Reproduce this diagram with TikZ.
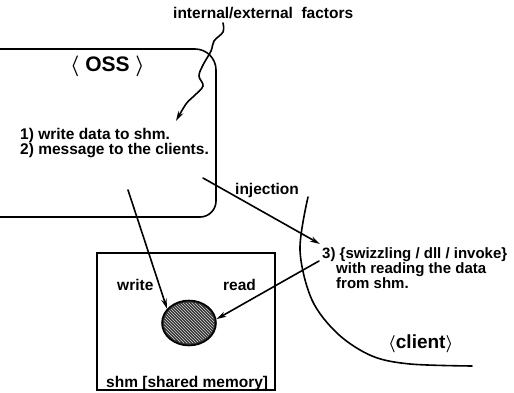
\documentclass[tikz,border=0pt]{standalone}
\usepackage{fontspec}
\setmainfont{Liberation Sans}
\usetikzlibrary{arrows.meta,patterns,shapes.geometric}
\tikzset{
  lbl/.style={inner sep=0pt, anchor=base west, font=\fontsize{15.5}{15}\selectfont\bfseries},
  ln/.style={line width=1.6pt, line cap=round},
  arr/.style={ln, -{Stealth[length=10pt,width=5.5pt]}},
}
\newcommand{\lang}{{\boldmath$\langle$}}
\newcommand{\rang}{{\boldmath$\rangle$}}
\begin{document}
\begin{tikzpicture}[x=1pt,y=-1pt]
\useasboundingbox (0,0) rectangle (514,393);
% OSS box (open on the left)
\draw[ln] (0,49) -- (195,49) arc[start angle=-90, end angle=0, radius=21] -- (216,201) arc[start angle=0, end angle=90, radius=16] -- (0,217);
\node[lbl, font=\fontsize{21}{21}\selectfont\bfseries] (oss) at (70,72) {\lang\ OSS\ \rang};
% factors
\node[lbl] (fac) at (173,19) {internal/external\ \ factors};
\draw[arr] plot[smooth, tension=0.6] coordinates {(223,23) (223,32) (214,41) (211,51) (203,65) (199,76) (203,86) (194,96) (186,104) (176,121)};
% OSS steps
\node[lbl, align=left, font=\fontsize{15.5}{14.5}\selectfont\bfseries] (steps) at (20,154) {1) write data to shm.\\2) message to the clients.};
% shm box
\node[draw, line width=1.2pt, minimum width=178pt, minimum height=137pt, inner sep=0pt] (shm) at (186,321.5) {};
\node[lbl] (shmtxt) at (106,387) {shm [shared memory]};
\node[ellipse, draw, line width=1.6pt, fill=black!80, minimum width=54pt, minimum height=45pt, inner sep=0pt] (mem) at (189,323) {};
\fill[pattern=north west lines, pattern color=white!85!black] (mem.center) ellipse[x radius=25pt, y radius=20.5pt];
\node[lbl] (wr) at (117,290) {write};
\node[lbl] (rd) at (223,290) {read};
% client
\draw[ln] plot[smooth, tension=0.55] coordinates {(308,197) (300,250) (312,300) (338,334) (372,356) (410,364) (472,366)};
\node[lbl, font=\fontsize{19}{19}\selectfont\bfseries] (cli) at (388,348) {\lang client\rang};
\node[lbl, align=left, font=\fontsize{15}{15}\selectfont\bfseries] (three) at (322,288) {3) \{swizzling / dll / invoke\}\\\hspace*{14pt}with reading the data\\\hspace*{14pt}from shm.};
% connectors
\coordinate (inj0) at (203,178);
\coordinate (inj1) at (320,244);
\draw[arr] (inj0) -- (inj1);
\node[lbl] (injl) at (235,194) {injection};
\coordinate (wr0) at (128,190);
\draw[arr] (wr0) -- (mem.147);
\coordinate (rd0) at (319,261);
\draw[arr] (rd0) -- (mem.8);
\end{tikzpicture}
\end{document}
